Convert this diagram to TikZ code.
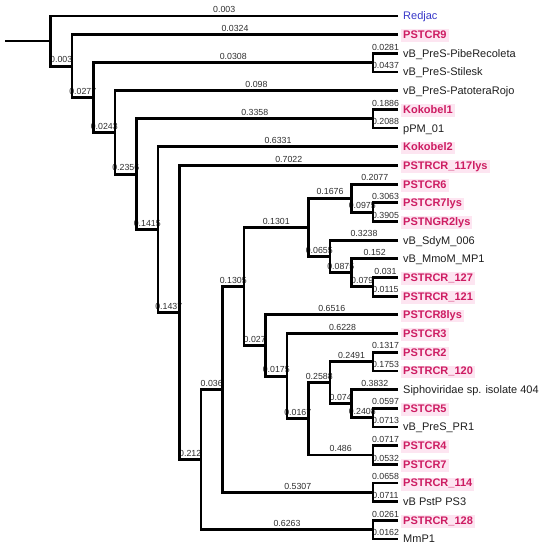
\documentclass[tikz,border=0pt]{standalone}
\usepackage{fontspec}
\setmainfont{Liberation Sans}
\usetikzlibrary{calc}
\definecolor{pk}{RGB}{205,28,98}
\definecolor{pkbg}{RGB}{253,229,241}
\definecolor{rjblue}{RGB}{55,55,200}
\definecolor{tx}{RGB}{30,30,30}
\definecolor{bt}{RGB}{45,45,45}
\newcommand\elab[3]{\node[bv] (e-#2) at ($(#2 -| #1)!0.5!(#2)$) {#3};}
\newcommand\clade[3]{\draw[br] (#2) -| (#1) |- (#3);}
\begin{document}
\begin{tikzpicture}[x=1pt,y=-1pt,
  br/.style={line width=2.8pt,black},
  leaf/.style={anchor=base west,font=\fontsize{11}{13}\selectfont,text=tx,
    inner xsep=2pt,inner ysep=1pt,text height=8.2pt,text depth=2.6pt,yshift=-3.95pt,xshift=3pt},
  hl/.style={leaf,font=\fontsize{11}{13}\selectfont\bfseries,text=pk,fill=pkbg},
  rj/.style={leaf,text=rjblue},
  bv/.style={anchor=base,font=\fontsize{8.8}{10}\selectfont,text=bt,inner sep=0pt,yshift=3.3pt}]
\useasboundingbox (0,0) rectangle (542,550);
% leaf ends
\coordinate (l0) at (398,16);
\coordinate (l1) at (398,34.68);
\coordinate (l2) at (398,53.36);
\coordinate (l3) at (398,72.04);
\coordinate (l4) at (398,90.72);
\coordinate (l5) at (398,109.4);
\coordinate (l6) at (398,128.08);
\coordinate (l7) at (398,146.76);
\coordinate (l8) at (398,165.44);
\coordinate (l9) at (398,184.12);
\coordinate (l10) at (398,202.8);
\coordinate (l11) at (398,221.48);
\coordinate (l12) at (398,240.16);
\coordinate (l13) at (398,258.84);
\coordinate (l14) at (398,277.52);
\coordinate (l15) at (398,296.2);
\coordinate (l16) at (398,314.88);
\coordinate (l17) at (398,333.56);
\coordinate (l18) at (398,352.24);
\coordinate (l19) at (398,370.92);
\coordinate (l20) at (398,389.6);
\coordinate (l21) at (398,408.28);
\coordinate (l22) at (398,426.96);
\coordinate (l23) at (398,445.64);
\coordinate (l24) at (398,464.32);
\coordinate (l25) at (398,483);
\coordinate (l26) at (398,501.68);
\coordinate (l27) at (398,520.36);
\coordinate (l28) at (398,539.04);
% internal nodes
\coordinate (c23) at (373,62.7);
\coordinate (c56) at (373,118.74);
\coordinate (c1011) at (373,212.14);
\coordinate (c1415) at (373,286.86);
\coordinate (c1819) at (373,361.58);
\coordinate (c2122) at (373,417.62);
\coordinate (c2324) at (373,454.98);
\coordinate (c2526) at (373,492.34);
\coordinate (c2728) at (373,529.7);
\coordinate (Q) at (351.5,198.13);
\coordinate (MM) at (351.5,272.85);
\coordinate (P) at (351.5,403.61);
\coordinate (R) at (330,256.5);
\coordinate (O) at (330,382.6);
\coordinate (K) at (308.5,227.32);
\coordinate (N) at (308.5,418.79);
\coordinate (M) at (287,376.17);
\coordinate (L) at (265.5,345.53);
\coordinate (J) at (244,286.42);
\coordinate (I) at (222.5,389.38);
\coordinate (H) at (201,459.54);
\coordinate (G) at (179.5,312.49);
\coordinate (F) at (158,229.63);
\coordinate (E) at (136.5,174.18);
\coordinate (D) at (115,132.45);
\coordinate (C) at (93.5,97.58);
\coordinate (B) at (72,66.13);
\coordinate (A) at (50.5,41.06);
\coordinate (root) at (5,41.06);
% branch labels
\elab{A}{l0}{0.003}
\elab{A}{B}{0.003}
\elab{B}{l1}{0.0324}
\elab{B}{C}{0.0277}
\elab{C}{c23}{0.0308}
\elab{C}{D}{0.0243}
\elab{c23}{l2}{0.0281}
\elab{c23}{l3}{0.0437}
\elab{D}{l4}{0.098}
\elab{D}{E}{0.2356}
\elab{E}{c56}{0.3358}
\elab{E}{F}{0.1415}
\elab{c56}{l5}{0.1886}
\elab{c56}{l6}{0.2088}
\elab{F}{l7}{0.6331}
\elab{F}{G}{0.1437}
\elab{G}{l8}{0.7022}
\elab{G}{H}{0.212}
\elab{H}{I}{0.036}
\elab{H}{c2728}{0.6263}
\elab{I}{J}{0.1305}
\elab{I}{c2526}{0.5307}
\elab{J}{K}{0.1301}
\elab{J}{L}{0.027}
\elab{K}{Q}{0.1676}
\elab{K}{R}{0.0655}
\elab{Q}{l9}{0.2077}
\elab{Q}{c1011}{0.0975}
\elab{c1011}{l10}{0.3063}
\elab{c1011}{l11}{0.3905}
\elab{R}{l12}{0.3238}
\elab{R}{MM}{0.0875}
\elab{MM}{l13}{0.152}
\elab{MM}{c1415}{0.079}
\elab{c1415}{l14}{0.031}
\elab{c1415}{l15}{0.0115}
\elab{L}{l16}{0.6516}
\elab{L}{M}{0.0175}
\elab{M}{l17}{0.6228}
\elab{M}{N}{0.0167}
\elab{N}{O}{0.2588}
\elab{N}{c2324}{0.486}
\elab{O}{c1819}{0.2491}
\elab{O}{P}{0.074}
\elab{c1819}{l18}{0.1317}
\elab{c1819}{l19}{0.1753}
\elab{P}{l20}{0.3832}
\elab{P}{c2122}{0.2408}
\elab{c2122}{l21}{0.0597}
\elab{c2122}{l22}{0.0713}
\elab{c2324}{l23}{0.0717}
\elab{c2324}{l24}{0.0532}
\elab{c2526}{l25}{0.0658}
\elab{c2526}{l26}{0.0711}
\elab{c2728}{l27}{0.0261}
\elab{c2728}{l28}{0.0162}
% branches
\draw[br] (root) -- (A);
\clade{A}{l0}{B}
\clade{B}{l1}{C}
\clade{C}{c23}{D}
\clade{c23}{l2}{l3}
\clade{D}{l4}{E}
\clade{E}{c56}{F}
\clade{c56}{l5}{l6}
\clade{F}{l7}{G}
\clade{G}{l8}{H}
\clade{H}{I}{c2728}
\clade{I}{J}{c2526}
\clade{J}{K}{L}
\clade{K}{Q}{R}
\clade{Q}{l9}{c1011}
\clade{c1011}{l10}{l11}
\clade{R}{l12}{MM}
\clade{MM}{l13}{c1415}
\clade{c1415}{l14}{l15}
\clade{L}{l16}{M}
\clade{M}{l17}{N}
\clade{N}{O}{c2324}
\clade{O}{c1819}{P}
\clade{c1819}{l18}{l19}
\clade{P}{l20}{c2122}
\clade{c2122}{l21}{l22}
\clade{c2324}{l23}{l24}
\clade{c2526}{l25}{l26}
\clade{c2728}{l27}{l28}
% leaf labels
\node[rj] (t0) at (l0) {Redjac};
\node[hl] (t1) at (l1) {PSTCR9};
\node[leaf] (t2) at (l2) {vB\_PreS-PibeRecoleta};
\node[leaf] (t3) at (l3) {vB\_PreS-Stilesk};
\node[leaf] (t4) at (l4) {vB\_PreS-PatoteraRojo};
\node[hl] (t5) at (l5) {Kokobel1};
\node[leaf] (t6) at (l6) {pPM\_01};
\node[hl] (t7) at (l7) {Kokobel2};
\node[hl] (t8) at (l8) {PSTRCR\_117lys};
\node[hl] (t9) at (l9) {PSTCR6};
\node[hl] (t10) at (l10) {PSTCR7lys};
\node[hl] (t11) at (l11) {PSTNGR2lys};
\node[leaf] (t12) at (l12) {vB\_SdyM\_006};
\node[leaf] (t13) at (l13) {vB\_MmoM\_MP1};
\node[hl] (t14) at (l14) {PSTRCR\_127};
\node[hl] (t15) at (l15) {PSTRCR\_121};
\node[hl] (t16) at (l16) {PSTCR8lys};
\node[hl] (t17) at (l17) {PSTCR3};
\node[hl] (t18) at (l18) {PSTCR2};
\node[hl] (t19) at (l19) {PSTRCR\_120};
\node[leaf] (t20) at (l20) {Siphoviridae sp. isolate 404};
\node[hl] (t21) at (l21) {PSTCR5};
\node[leaf] (t22) at (l22) {vB\_PreS\_PR1};
\node[hl] (t23) at (l23) {PSTCR4};
\node[hl] (t24) at (l24) {PSTCR7};
\node[hl] (t25) at (l25) {PSTRCR\_114};
\node[leaf] (t26) at (l26) {vB PstP PS3};
\node[hl] (t27) at (l27) {PSTRCR\_128};
\node[leaf] (t28) at (l28) {MmP1};
\end{tikzpicture}
\end{document}
